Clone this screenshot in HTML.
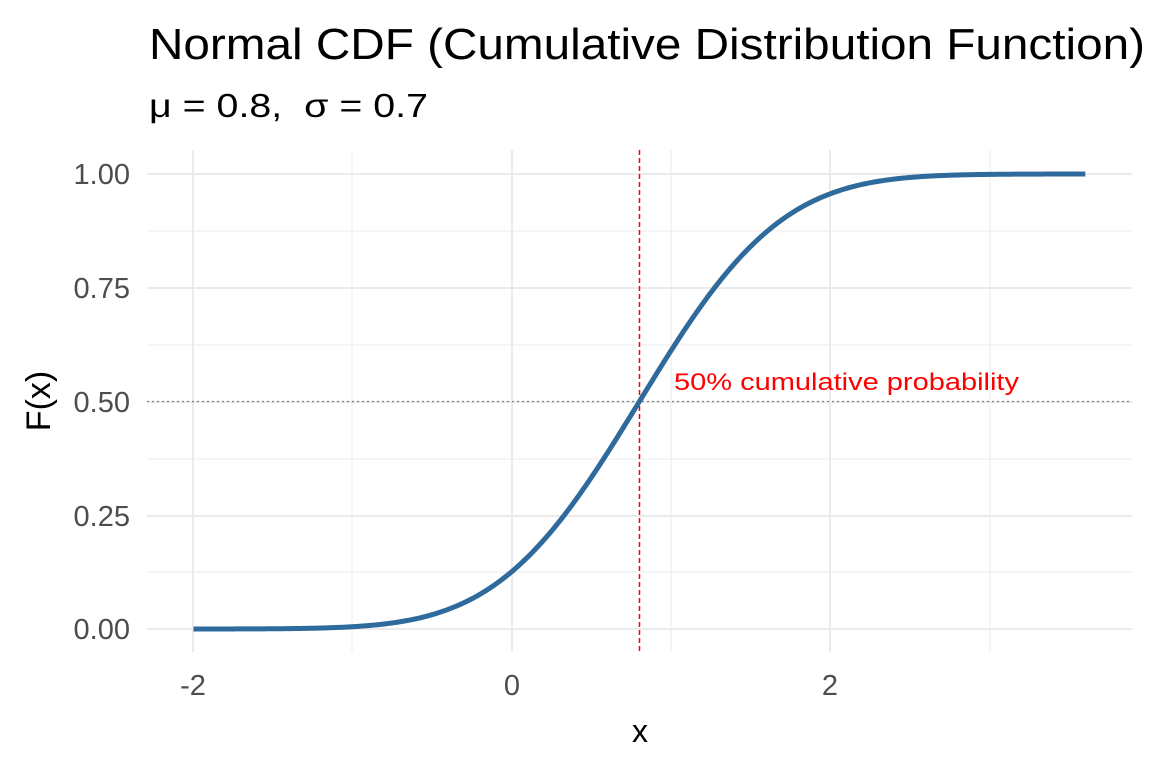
<!DOCTYPE html>
<html><head><meta charset="utf-8"><style>
body{margin:0;background:#fff;}
svg{display:block;font-family:"Liberation Sans",sans-serif;}
</style></head><body>
<svg id="s" width="1152" height="768" xmlns="http://www.w3.org/2000/svg">
<rect width="1152" height="768" fill="#fff"/>
<g stroke="#ebebeb" stroke-width="1">
<line x1="147" x2="1132" y1="231" y2="231"/><line x1="147" x2="1132" y1="345" y2="345"/>
<line x1="147" x2="1132" y1="459" y2="459"/><line x1="147" x2="1132" y1="572" y2="572"/>
<line x1="352" x2="352" y1="150" y2="652"/><line x1="671" x2="671" y1="150" y2="652"/><line x1="990" x2="990" y1="150" y2="652"/>
</g>
<g stroke="#ebebeb" stroke-width="2">
<line x1="147" x2="1132" y1="174" y2="174"/><line x1="147" x2="1132" y1="288" y2="288"/>
<line x1="147" x2="1132" y1="402" y2="402"/><line x1="147" x2="1132" y1="516" y2="516"/>
<line x1="147" x2="1132" y1="629" y2="629"/>
<line x1="193" x2="193" y1="150" y2="652"/><line x1="512" x2="512" y1="150" y2="652"/><line x1="830" x2="830" y1="150" y2="652"/>
</g>
<line x1="147" x2="1132" y1="401.5" y2="401.5" stroke="#808080" stroke-width="1.3" stroke-dasharray="2,3"/>
<line x1="639.5" x2="639.5" y1="150" y2="652" stroke="#ff0000" stroke-width="1.5" stroke-dasharray="5,3"/>
<path id="c" fill="none" stroke="#2e6a9c" stroke-width="5" stroke-linejoin="round"/>
<text x="674" y="390" font-size="24" fill="#ff0000" textLength="345" lengthAdjust="spacingAndGlyphs">50% cumulative probability</text>
<g font-size="29" fill="#4d4d4d" text-anchor="end">
<text x="130" y="184">1.00</text><text x="130" y="298">0.75</text><text x="130" y="412">0.50</text>
<text x="130" y="526">0.25</text><text x="130" y="639">0.00</text>
</g>
<g font-size="29" fill="#4d4d4d" text-anchor="middle">
<text x="193" y="695">-2</text><text x="512" y="695">0</text><text x="830" y="695">2</text>
</g>
<text x="640" y="742" font-size="32" text-anchor="middle" fill="#000">x</text>
<text transform="translate(50,401) rotate(-90)" font-size="34" text-anchor="middle" fill="#000">F(x)</text>
<text x="149" y="59" font-size="44" fill="#000" textLength="996" lengthAdjust="spacingAndGlyphs">Normal CDF (Cumulative Distribution Function)</text>
<text x="149" y="117" font-size="33" fill="#000" textLength="279" lengthAdjust="spacingAndGlyphs">μ = 0.8,&#160;&#160;σ = 0.7</text>
</svg>
<script>
function erf(x){var s=x<0?-1:1;x=Math.abs(x);var t=1/(1+0.3275911*x);
var y=1-(((((1.061405429*t-1.453152027)*t)+1.421413741)*t-0.284496736)*t+0.254829592)*t*Math.exp(-x*x);return s*y;}
var d="";for(var i=0;i<=400;i++){var x=-2+5.6*i/400;var F=0.5*(1+erf((x-0.8)/(0.7*Math.SQRT2)));
var px=512+159.25*x,py=629-455*F;d+=(i?"L":"M")+px.toFixed(2)+","+py.toFixed(2);}
document.getElementById("c").setAttribute("d",d);
</script>
</body></html>
